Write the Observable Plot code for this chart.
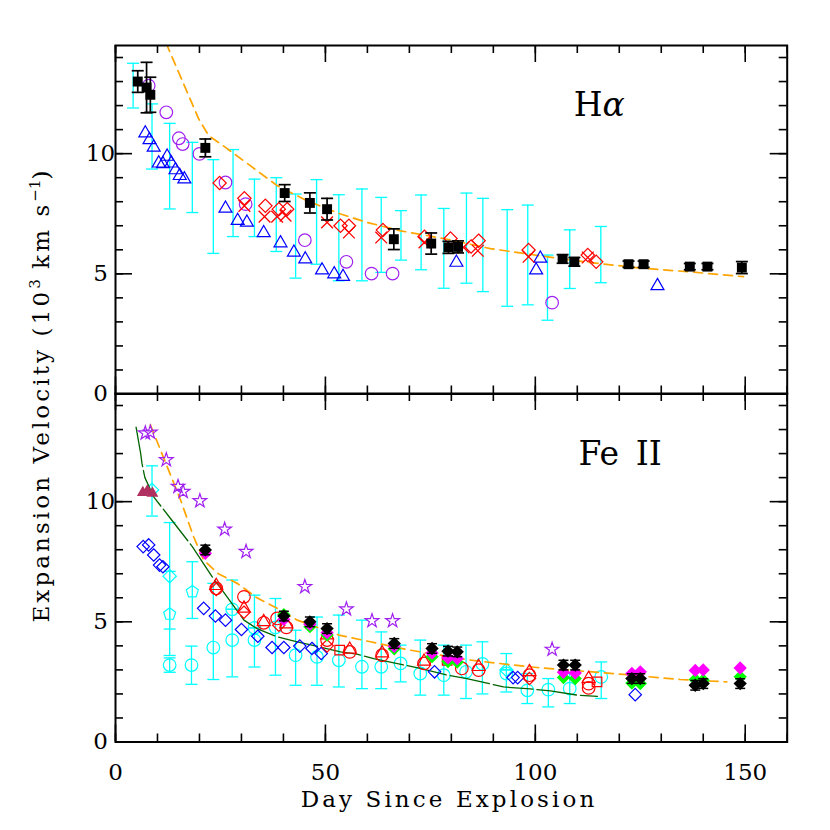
<!DOCTYPE html>
<html><head><meta charset="utf-8">
<script src="https://cdn.jsdelivr.net/npm/d3@7"></script>
<script src="https://cdn.jsdelivr.net/npm/@observablehq/plot@0.6"></script>
<style>
body{margin:0;background:#fff;}
#wrap{position:relative;width:830px;height:830px;font-family:"DejaVu Serif",serif;color:#000;}
#wrap svg{position:absolute;left:0;}
.lab{position:absolute;font-size:23px;white-space:nowrap;letter-spacing:3.1px;}
.lab sup{font-size:15px;letter-spacing:0;}
</style></head><body><div id="wrap"></div>
<script>
// ---------- H alpha panel data: [day, velocity (10^3 km/s), ...] ----------
const haSquares = [ // [day, v, err]
  [5.3,13.0,0.45],[7.4,12.75,1.05],[8.3,12.45,0.73],[21.4,10.24,0.37],[40.3,8.36,0.35],
  [46.3,7.95,0.42],[50.4,7.69,0.45],[66.3,6.44,0.43],[75.2,6.26,0.44],[79.3,6.1,0.25],
  [81.6,6.12,0.25],[106.5,5.62,0.18],[109.3,5.5,0.18],[122.2,5.4,0.13],[125.8,5.4,0.13],
  [136.8,5.3,0.13],[141.0,5.3,0.13],[149.2,5.26,0.25]
];
const haCyanBars = [ // [day, low, high]
  [4.2,11.9,13.76],[8.7,9.36,12.07],[12.9,7.7,11.26],[18.3,7.55,10.47],[23.3,5.85,9.75],
  [28.0,6.55,10.17],[33.1,6.55,8.94],[38.3,5.93,9.0],[42.9,4.82,8.32],[47.9,5.4,8.92],
  [53.2,4.71,8.29],[58.7,4.71,8.53],[63.3,5.06,8.18],[68.0,5.57,7.63],[72.8,5.17,8.28],
  [78.2,4.40,7.72],[83.6,4.61,8.36],[87.5,4.26,8.14],[93.3,3.65,7.67],[98.2,3.71,7.86],
  [102.9,3.07,5.78],[108.2,4.39,6.83],[115.6,4.63,6.97]
];
const haPurpleCircles = [
  [7.9,12.83],[12.1,11.72],[15.1,10.64],[16.0,10.4],[20.0,9.99],[26.2,8.8],[31.0,7.9],
  [45.1,6.4],[55.0,5.5],[61.0,5.01],[66.0,5.01],[104.0,3.8]
];
const haBlueTriangles = [
  [7.1,10.85],[8.1,10.57],[9.1,10.26],[10.3,9.6],[11.3,9.57],[12.3,9.88],[13.3,9.6],
  [14.3,9.32],[15.3,9.08],[16.4,8.94],[26.2,7.72],[29.1,7.21],[31.3,7.14],[35.3,6.7],
  [39.3,6.28],[42.5,5.89],[45.2,5.61],[49.2,5.15],[52.1,4.99],[54.2,4.88],[81.2,5.47],
  [100.2,5.15],[101.2,5.64],[129.1,4.5]
];
const haRedDiamonds = [
  [24.8,8.78],[30.7,8.14],[35.7,7.83],[38.9,7.69],[40.9,7.69],[53.6,7.0],[55.6,7.0],
  [63.7,6.82],[73.6,6.54],[79.8,6.47],[84.7,6.14],[86.5,6.38],[98.4,5.99],[112.5,5.78],[114.5,5.5]
];
const haRedCrosses = [
  [30.7,7.83],[35.5,7.38],[38.5,7.38],[40.5,7.42],[50.4,7.14],[55.6,6.72],[63.3,6.51],
  [73.6,6.31],[82.9,6.1],[86.3,5.96],[98.4,5.71],[112.5,5.68]
];
const haFit = [
  [11.0,15.2],[12.3,14.5],[19.8,11.45],[22.2,10.75],[26.2,10.26],[32.1,9.5],[38.5,8.67],
  [45.6,8.04],[53.6,7.49],[59.9,7.14],[67.9,6.79],[79.0,6.44],[89.3,6.05],[101.2,5.75],
  [113.1,5.47],[125.0,5.24],[136.9,5.08],[149.6,4.88]
];

// ---------- Fe II panel data ----------
const feStars = [
  [7.1,12.85],[8.3,12.88],[12.1,11.74],[14.9,10.63],[16.1,10.42],[20.1,10.03],[26.0,8.85],
  [31.1,7.92],[45.1,6.46],[55.0,5.53],[61.1,5.04],[66.0,5.04],[104.0,3.85]
];
const feModel = [
  [4.9,13.1],[6.0,12.0],[6.3,11.6],[7.0,11.0],[9.1,10.2],[13.1,9.3],[18.3,8.13],[23.0,6.88],
  [25.4,6.32],[30.6,5.07],[33.7,4.72],[38.5,4.38],[43.3,4.17],[53.6,3.75],[57.5,3.66],
  [61.5,3.47],[72.6,3.06],[79.0,2.78],[83.7,2.64],[92.4,2.29],[98.0,2.22],[103.6,2.13],
  [110.0,1.95],[114.8,1.9]
];
const feFit = [
  [8.3,13.2],[12.3,11.46],[15.5,10.07],[18.6,8.54],[21.0,7.57],[24.5,7.0],[29.0,6.6],
  [33.7,6.0],[38.5,5.56],[43.3,5.07],[53.2,4.45],[60.7,4.17],[70.2,3.82],[84.0,3.42],
  [94.8,3.2],[100.4,3.1],[121.0,2.81],[134.5,2.6],[145.6,2.5]
];
const feBlueDiamonds = [
  [6.6,8.13],[7.9,8.2],[9.1,7.78],[10.5,7.36],[11.3,7.29],[21.0,5.56],[23.8,5.24],[26.2,5.07],
  [30.0,4.68],[33.9,4.4],[37.3,3.93],[40.1,3.93],[43.9,3.99],[46.8,3.89],[49.0,3.68],
  [76.0,2.92],[94.7,2.68],[95.8,2.68],[123.8,1.97]
];
const feCyanCircles = [ // [day, v, low, high]
  [12.9,3.2,2.9,3.5],[18.1,3.2,2.4,3.99],[23.3,3.93,2.6,6.6],[27.8,4.24,2.71,6.74],
  [27.8,5.52,5.52,5.52],[33.1,4.24,3.12,6.11],[33.1,4.75,4.75,4.75],[38.1,4.77,2.78,5.97],
  [42.9,3.61,2.36,4.65],[48.0,3.54,2.36,5.2],[53.2,3.4,2.29,5.28],[58.7,3.13,2.22,5.07],
  [63.3,3.13,2.22,4.58],[67.9,3.27,2.5,4.03],[72.6,2.85,1.95,4.24],[78.2,2.78,1.95,4.03],
  [83.5,2.92,1.81,4.03],[87.4,3.25,2.0,4.17],[93.1,2.85,2.08,3.68],[98.1,2.15,1.6,2.85],
  [103.1,2.18,1.46,2.64],[108.2,2.22,1.6,2.85],[115.7,2.71,1.81,3.33]
];
const feCyanDiamonds = [ // [day, v, low, high]
  [8.7,10.49,9.4,11.49],[12.9,6.9,4.7,9.13],[93.1,3.0,3.0,3.0]
];
const feCyanPentagons = [ // [day, v, low, high]
  [12.9,5.32,3.6,7.1],[18.3,6.25,5.14,7.5]
];
const feRedCircles = [
  [24.0,6.39],[30.6,6.04],[35.3,4.96],[38.5,5.14],[40.7,4.77],[50.4,4.24],[55.8,3.75],
  [63.5,3.61],[73.5,3.27],[82.5,3.06],[86.5,2.99],[98.6,2.78],[112.7,2.43],[112.7,2.25]
];
const feRedTriangles = [
  [24.0,6.5],[30.6,5.56],[35.3,5.0],[40.7,4.9],[50.4,4.45],[55.8,3.85],[63.5,3.7],
  [73.5,3.35],[86.5,3.13],[98.6,2.92],[112.7,2.64]
];
const feRedDiamonds = [
  [24.0,6.35],[30.6,5.4],[38.9,4.86],[50.4,4.0],[98.6,2.64]
];
const feRedSquares = [
  [53.4,3.82],[79.0,3.4],[114.7,2.5]
];
const feBlack = [
  [21.4,7.99],[40.1,5.24],[46.3,5.0],[50.4,4.72],[66.4,4.1],[75.4,3.89],[79.2,3.78],
  [81.4,3.75],[106.7,3.2],[109.5,3.2],[123.0,2.64],[125.0,2.64],[138.1,2.36],[140.0,2.43],[148.8,2.43]
];
const feMagenta = [
  [21.4,7.85],[40.1,5.1],[46.3,4.9],[50.4,4.55],[66.4,3.98],[75.4,3.7],[79.2,3.5],
  [81.4,3.47],[106.7,2.9],[109.5,2.87],[123.0,2.85],[125.0,2.92],[138.1,2.98],[140.0,3.0],[148.8,3.08]
];
const feGreen = [
  [40.1,5.3],[46.3,4.8],[50.4,4.45],[66.4,3.88],[75.4,3.55],[79.2,3.35],[81.4,3.33],
  [106.7,2.68],[109.5,2.64],[123.0,2.45],[125.0,2.43],[138.1,2.6],[140.0,2.57],[148.8,2.71]
];
const feMaroon = [[6.5,10.38],[7.6,10.45],[8.8,10.35]];

// ---------- axes ----------
const xDomain = [0,160], yDomain = [0,14.5];
const xMajor = [0,50,100,150], xMinor = d3.range(0,161,10);
const yMajor = [0,5,10], yMinor = d3.range(0,15,1);

// ---------- helpers ----------
const W = 830, ML = 115, MR = 43.3, FH = 348.5;
const FW = W - ML - MR;
const cap = w => ({draw(ctx){ctx.moveTo(-w,0);ctx.lineTo(w,0);}});
const pentagon = {draw(ctx,size){
  const r = Math.sqrt(size/(2.5*Math.sin(2*Math.PI/5)));
  for(let i=0;i<5;i++){const a=-Math.PI/2+i*2*Math.PI/5;
    i?ctx.lineTo(r*Math.cos(a),r*Math.sin(a)):ctx.moveTo(r*Math.cos(a),r*Math.sin(a));}
  ctx.closePath();}};
const X = d=>d[0], Y = d=>d[1];
function bars(data, lo, hi, color, w, sw){
  return [
    Plot.ruleX(data,{x:X,y1:lo,y2:hi,stroke:color,strokeWidth:sw}),
    Plot.dot(data,{x:X,y:lo,symbol:cap(w),stroke:color,strokeWidth:sw,fill:"none"}),
    Plot.dot(data,{x:X,y:hi,symbol:cap(w),stroke:color,strokeWidth:sw,fill:"none"})
  ];
}
function frameMarks(){
  return [
    Plot.ruleX(xMinor,{x:d=>d,insetTop:FH-8,stroke:"#000",strokeWidth:1.6}),
    Plot.ruleX(xMinor,{x:d=>d,insetBottom:FH-8,stroke:"#000",strokeWidth:1.6}),
    Plot.ruleX(xMajor,{x:d=>d,insetTop:FH-17,stroke:"#000",strokeWidth:1.6}),
    Plot.ruleX(xMajor,{x:d=>d,insetBottom:FH-17,stroke:"#000",strokeWidth:1.6}),
    Plot.ruleY(yMinor,{y:d=>d,insetRight:FW-8,stroke:"#000",strokeWidth:1.6}),
    Plot.ruleY(yMinor,{y:d=>d,insetLeft:FW-8,stroke:"#000",strokeWidth:1.6}),
    Plot.ruleY(yMajor,{y:d=>d,insetRight:FW-17,stroke:"#000",strokeWidth:1.6}),
    Plot.ruleY(yMajor,{y:d=>d,insetLeft:FW-17,stroke:"#000",strokeWidth:1.6}),
    Plot.frame({stroke:"#000",strokeWidth:2}),
    Plot.axisY(yMajor,{tickSize:0,tickPadding:15,textAnchor:"middle",fontSize:23})
  ];
}
const style = {background:"transparent",overflow:"visible",fontFamily:"DejaVu Serif",fontSize:"23px",color:"#000"};
const wrap = document.getElementById("wrap");

// ---------- top panel ----------
const topPlot = Plot.plot({
  width:W, height:400, marginTop:45, marginBottom:400-45-FH, marginLeft:ML, marginRight:MR,
  x:{domain:xDomain,axis:null}, y:{domain:yDomain,axis:null}, style,
  marks:[
    ...bars(haCyanBars,d=>d[1],d=>d[2],"#00ffff",6,1.3),
    Plot.line(haFit,{x:X,y:Y,stroke:"#ffa500",strokeWidth:1.7,strokeDasharray:"9,6",clip:true}),
    Plot.dot(haBlueTriangles,{x:X,y:Y,symbol:"triangle",r:4.8,stroke:"#0000ff",strokeWidth:1.2,fill:"none"}),
    Plot.dot(haPurpleCircles,{x:X,y:Y,r:6.3,stroke:"#a020f0",strokeWidth:1.2,fill:"none"}),
    Plot.dot(haRedDiamonds,{x:X,y:Y,symbol:"diamond2",r:6.0,stroke:"#ff0000",strokeWidth:1.2,fill:"none"}),
    Plot.dot(haRedCrosses,{x:X,y:Y,symbol:"times",r:5.4,stroke:"#ff0000",strokeWidth:1.3}),
    ...bars(haSquares,d=>d[1]-d[2],d=>d[1]+d[2],"#000",6,1.7),
    Plot.dot(haSquares,{x:X,y:Y,symbol:"square",r:5.6,fill:"#000",stroke:"none"}),
    Plot.text(["H"],{x:116,y:12.0,textAnchor:"end",fontSize:33,fill:"#000"}),
    Plot.text(["α"],{x:116,y:12.0,textAnchor:"start",fontSize:33,fontStyle:"italic",fill:"#000"}),
    ...frameMarks()
  ]
});
topPlot.style.top = "0px";
wrap.appendChild(topPlot);

// ---------- bottom panel ----------
const BT = 380, BMT = 13;
const botPlot = Plot.plot({
  width:W, height:450, marginTop:BMT, marginBottom:450-BMT-FH, marginLeft:ML, marginRight:MR,
  x:{domain:xDomain,axis:null}, y:{domain:yDomain,axis:null}, style,
  marks:[
    ...bars(feCyanCircles,d=>d[2],d=>d[3],"#00ffff",6,1.3),
    ...bars(feCyanDiamonds,d=>d[2],d=>d[3],"#00ffff",6,1.3),
    ...bars(feCyanPentagons,d=>d[2],d=>d[3],"#00ffff",6,1.3),
    Plot.dot(feCyanCircles,{x:X,y:Y,r:6.3,stroke:"#00ffff",strokeWidth:1.2,fill:"none"}),
    Plot.dot(feCyanDiamonds,{x:X,y:Y,symbol:"diamond2",r:6.0,stroke:"#00ffff",strokeWidth:1.2,fill:"none"}),
    Plot.dot(feCyanPentagons,{x:X,y:Y,symbol:pentagon,r:5.5,stroke:"#00ffff",strokeWidth:1.2,fill:"none"}),
    Plot.line(feModel,{x:X,y:Y,stroke:"#006400",strokeWidth:1.3,strokeDasharray:"40,4"}),
    Plot.line(feFit,{x:X,y:Y,stroke:"#ffa500",strokeWidth:1.7,strokeDasharray:"9,6",clip:true}),
    Plot.dot(feBlueDiamonds,{x:X,y:Y,symbol:"diamond2",r:5.6,stroke:"#0000ff",strokeWidth:1.2,fill:"none"}),
    Plot.dot(feStars,{x:X,y:Y,symbol:"star",r:4.3,stroke:"#a020f0",strokeWidth:1.2,fill:"none"}),
    Plot.dot(feMaroon,{x:X,y:Y,symbol:"triangle",r:3.4,fill:"#b03060",stroke:"#b03060"}),
    Plot.dot(feRedCircles,{x:X,y:Y,r:6.3,stroke:"#ff0000",strokeWidth:1.2,fill:"none"}),
    Plot.dot(feRedTriangles,{x:X,y:Y,symbol:"triangle",r:4.8,stroke:"#ff0000",strokeWidth:1.2,fill:"none"}),
    Plot.dot(feRedDiamonds,{x:X,y:Y,symbol:"diamond2",r:5.6,stroke:"#ff0000",strokeWidth:1.2,fill:"none"}),
    Plot.dot(feRedSquares,{x:X,y:Y,symbol:"square",r:5.4,stroke:"#ff0000",strokeWidth:1.2,fill:"none"}),
    Plot.dot(feGreen,{x:X,y:Y,symbol:"diamond2",r:6.0,fill:"#00ff00",stroke:"none"}),
    Plot.dot(feMagenta,{x:X,y:Y,symbol:"diamond2",r:6.0,fill:"#ff00ff",stroke:"none"}),
    ...bars(feBlack,d=>d[1]-0.2,d=>d[1]+0.2,"#000",5,1.5),
    Plot.dot(feBlack,{x:X,y:Y,symbol:"diamond2",r:6.0,fill:"#000",stroke:"none"}),
    Plot.text(["Fe\u2002II"],{x:120.2,y:11.97,fontSize:33,fill:"#000"}),
    ...frameMarks(),
    Plot.axisX(xMajor,{anchor:"bottom",tickSize:0,tickPadding:22,fontSize:23})
  ]
});
botPlot.style.top = BT + "px";
wrap.appendChild(botPlot);

// ---------- axis titles ----------
const xl = document.createElement("div");
xl.className = "lab";
xl.textContent = "Day Since Explosion";
xl.style.left = "449px"; xl.style.top = "799px"; xl.style.transform = "translate(-50%,-50%)";
wrap.appendChild(xl);
const yl = document.createElement("div");
yl.className = "lab";
yl.innerHTML = "Expansion Velocity (10<sup>3</sup> km s<sup>\u22121</sup>)";
yl.style.left = "40px"; yl.style.top = "395px"; yl.style.transform = "translate(-50%,-50%) rotate(-90deg)";
wrap.appendChild(yl);
</script></body></html>
